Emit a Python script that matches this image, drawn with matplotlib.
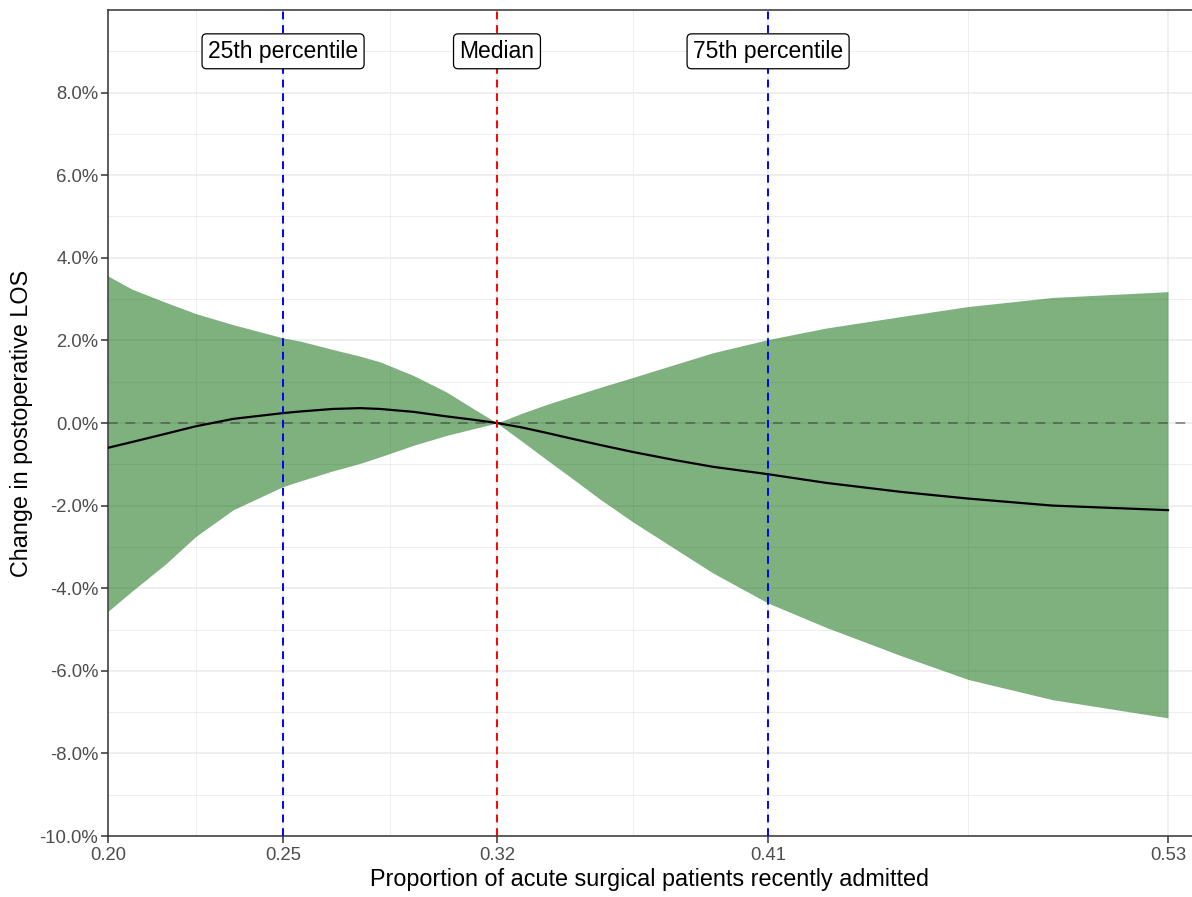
import numpy as np
import matplotlib
matplotlib.use("Agg")
from matplotlib import pyplot as plt

plt.rcParams["font.family"] = ["Liberation Sans", "DejaVu Sans"]

# proportion of acute surgical patients recently admitted
prop = [0.2000, 0.2075, 0.2180, 0.2273, 0.2390, 0.2545, 0.2600, 0.2700,
        0.2784, 0.2847, 0.2951, 0.3054, 0.3137, 0.3211, 0.3290, 0.3366,
        0.3450, 0.3531, 0.3633, 0.3766, 0.3883, 0.4055, 0.4236, 0.4471,
        0.4678, 0.4941, 0.5300]
# change in postoperative LOS (%)
fit = [-0.60, -0.46, -0.26, -0.08, 0.10, 0.24, 0.28, 0.34,
       0.36, 0.34, 0.27, 0.16, 0.08, 0.00, -0.11, -0.24,
       -0.39, -0.53, -0.70, -0.90, -1.06, -1.24, -1.45, -1.67,
       -1.83, -2.00, -2.11]
upper = [3.56, 3.24, 2.92, 2.65, 2.38, 2.06, 1.98, 1.78,
         1.62, 1.48, 1.15, 0.75, 0.35, 0.00, 0.24, 0.45,
         0.66, 0.86, 1.10, 1.42, 1.70, 2.02, 2.30, 2.58,
         2.82, 3.04, 3.18]
lower = [-4.56, -4.07, -3.41, -2.75, -2.10, -1.54, -1.40, -1.16,
         -0.98, -0.82, -0.54, -0.30, -0.14, 0.00, -0.45, -0.89,
         -1.37, -1.84, -2.39, -3.05, -3.63, -4.36, -4.95, -5.64,
         -6.21, -6.70, -7.14]

x_ticks = [0.200, 0.2545, 0.3211, 0.4055, 0.530]
ref_lines = [0.2545, 0.3211, 0.4055]
ref_names = ["25th percentile", "Median", "75th percentile"]
ref_colors = ["blue", "red", "blue"]
y_ticks = [-10, -8, -6, -4, -2, 0, 2, 4, 6, 8]

fig = plt.figure(figsize=(11.92, 8.97), dpi=100)
ax = fig.add_axes([108 / 1192, 61 / 897, 1 - 108 / 1192, 826 / 897])

# grid (major + minor, ggplot style)
grid_col = "#ebebeb"
minor_x = [(a + b) / 2 for a, b in zip(x_ticks[:-1], x_ticks[1:])]
for v in x_ticks:
    ax.axvline(v, color=grid_col, lw=1.1, zorder=0)
for v in minor_x:
    ax.axvline(v, color=grid_col, lw=0.6, zorder=0)
for v in y_ticks:
    ax.axhline(v, color=grid_col, lw=1.1, zorder=0)
for v in range(-9, 10, 2):
    ax.axhline(v, color=grid_col, lw=0.6, zorder=0)

ax.fill_between(prop, lower, upper, color="#006400", alpha=0.5, lw=0, zorder=1)
ax.plot(prop, fit, color="black", lw=1.6, zorder=3)
ax.axhline(0, color="#404040", alpha=0.55, lw=1.4, ls=(0, (5, 4)), zorder=2)

for xv, name, col in zip(ref_lines, ref_names, ref_colors):
    ax.axvline(xv, color=col, lw=1.4, ls=(0, (4, 3)), zorder=4)
    ax.text(xv, 9, name, ha="center", va="center", fontsize=16.5, color="black",
            zorder=5,
            bbox=dict(boxstyle="round,pad=0.26,rounding_size=0.2",
                      facecolor="white", edgecolor="black", lw=0.9))

ax.set_xlim(0.20, 0.20 + (1192 - 108) / 3212.1)
ax.set_ylim(-10, 10)
ax.set_xticks(x_ticks)
ax.set_xticklabels([f"{v:.2f}" for v in x_ticks])
ax.set_yticks(y_ticks)
ax.set_yticklabels([f"{v:.1f}%" for v in y_ticks])
ax.tick_params(axis="both", labelsize=13.3, labelcolor="#4d4d4d", color="#333333",
               length=5, width=1.1)
ax.tick_params(axis="x", pad=3)
ax.tick_params(axis="y", pad=2)

for side in ["left", "bottom", "top"]:
    ax.spines[side].set_color("#333333")
    ax.spines[side].set_linewidth(1.1)
ax.spines["right"].set_visible(False)

ax.set_xlabel("Proportion of acute surgical patients recently admitted", fontsize=16.8, labelpad=3)
ax.set_ylabel("Change in postoperative LOS", fontsize=16.8, labelpad=5)

fig.savefig("out.png", dpi=100)
